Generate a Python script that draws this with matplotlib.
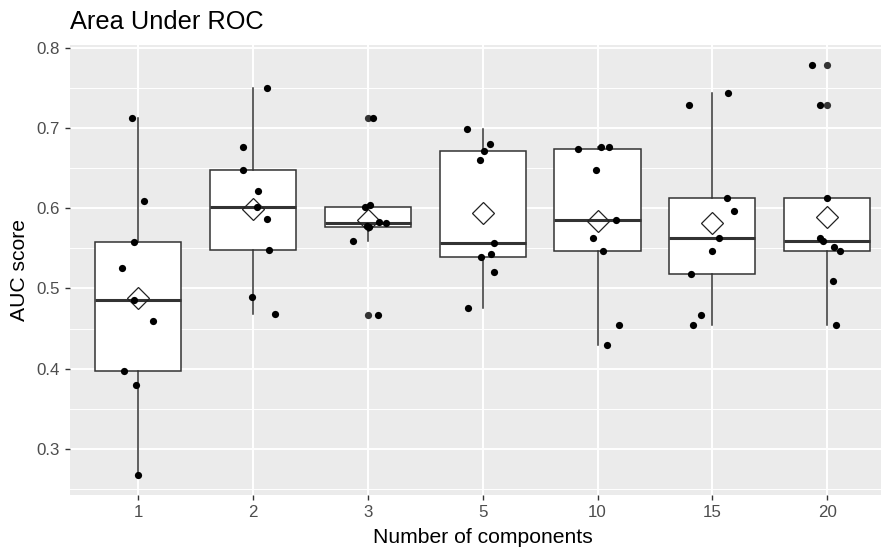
import matplotlib
matplotlib.use("Agg")
import matplotlib.pyplot as plt
from matplotlib.ticker import FixedLocator
import numpy as np

plt.rcParams['font.family'] = ['Liberation Sans', 'DejaVu Sans']

components = ["1", "2", "3", "5", "10", "15", "20"]

auc_1 = [0.712, 0.609, 0.558, 0.525, 0.486, 0.460, 0.397, 0.380, 0.268]
auc_2 = [0.749, 0.676, 0.648, 0.621, 0.601, 0.587, 0.548, 0.489, 0.468]
auc_3 = [0.712, 0.601, 0.604, 0.583, 0.581, 0.578, 0.577, 0.559, 0.467]
auc_5 = [0.698, 0.680, 0.671, 0.660, 0.556, 0.543, 0.539, 0.520, 0.475]
auc_10 = [0.673, 0.676, 0.676, 0.648, 0.585, 0.563, 0.547, 0.455, 0.430]
auc_15 = [0.743, 0.729, 0.613, 0.597, 0.563, 0.547, 0.518, 0.467, 0.455]
auc_20 = [0.778, 0.729, 0.613, 0.563, 0.559, 0.552, 0.547, 0.509, 0.455]

# horizontal jitter of each point (category units)
jitter_1 = [-0.052, 0.052, -0.035, -0.140, -0.035, 0.128, -0.125, -0.024, 0.0]
jitter_2 = [0.117, -0.090, -0.090, 0.038, 0.030, 0.117, 0.140, -0.014, 0.190]
jitter_3 = [0.046, -0.026, 0.020, 0.099, 0.157, -0.011, 0.005, -0.131, 0.085]
jitter_5 = [-0.139, 0.065, 0.015, -0.026, 0.102, 0.076, -0.011, 0.102, -0.125]
jitter_10 = [-0.166, 0.029, 0.099, -0.015, 0.163, -0.041, 0.050, 0.186, 0.085]
jitter_15 = [0.137, -0.203, 0.126, 0.187, 0.061, -0.003, -0.188, -0.101, -0.168]
jitter_20 = [-0.128, -0.064, 0.0, -0.064, -0.037, 0.061, 0.113, 0.050, 0.076]

groups = [auc_1, auc_2, auc_3, auc_5, auc_10, auc_15, auc_20]
jitters = [jitter_1, jitter_2, jitter_3, jitter_5, jitter_10, jitter_15, jitter_20]

W, H = 881, 551
fig = plt.figure(figsize=(W / 100, H / 100), dpi=100)
ax = fig.add_axes([69.5 / W, 1 - 495.2 / H, (896 - 69.5) / W, 450.5 / H])
ax.set_facecolor('#EBEBEB')
for s in ax.spines.values():
    s.set_visible(False)

positions = np.arange(1, len(components) + 1)
edge = '#333333'
ax.boxplot(groups, positions=positions, widths=0.75, whis=1.5,
           patch_artist=True, showcaps=False, showmeans=True,
           boxprops=dict(facecolor='white', edgecolor=edge, linewidth=1.1),
           whiskerprops=dict(color=edge, linewidth=1.1),
           medianprops=dict(color=edge, linewidth=2.2),
           meanprops=dict(marker='D', markerfacecolor='none', markeredgecolor='#222222',
                          markersize=11, markeredgewidth=0.9),
           flierprops=dict(marker='o', markerfacecolor=edge, markeredgecolor='none',
                           markersize=5.2),
           zorder=2)

for p, vals, jit in zip(positions, groups, jitters):
    ax.plot(p + np.array(jit), vals, 'o', color='black', markersize=5.2,
            markeredgewidth=0, zorder=3)

allv = np.concatenate(groups)
lo, hi = allv.min(), allv.max()
r = hi - lo
ax.set_ylim(lo - 0.05 * r, hi + 0.05 * r)
ax.set_xlim(0.4, len(components) + 0.6)

ax.set_xticks(positions)
ax.set_xticklabels(components)
ax.set_yticks([0.3, 0.4, 0.5, 0.6, 0.7, 0.8])
ax.set_yticklabels(['0.3', '0.4', '0.5', '0.6', '0.7', '0.8'])
ax.yaxis.set_minor_locator(FixedLocator([0.25, 0.35, 0.45, 0.55, 0.65, 0.75]))

ax.set_axisbelow(True)
ax.grid(which='major', color='white', linewidth=1.4)
ax.grid(which='minor', axis='y', color='white', linewidth=0.7)
ax.tick_params(which='major', length=3.8, width=1.0, color=edge,
               labelcolor='#4D4D4D', labelsize=12.2, pad=3)
ax.tick_params(which='minor', length=0)

fig.text(70 / W, 1 - 29 / H, "Area Under ROC", fontsize=18.3, ha='left', va='baseline',
         color='black')
fig.text(482.7 / W, 1 - 543 / H, "Number of components", fontsize=15.2, ha='center',
         va='baseline', color='black')
fig.text(19.5 / W, 1 - 270 / H, "AUC score", fontsize=15.2, ha='center', va='center',
         rotation=90, color='black')

fig.savefig('out.png', dpi=100)
